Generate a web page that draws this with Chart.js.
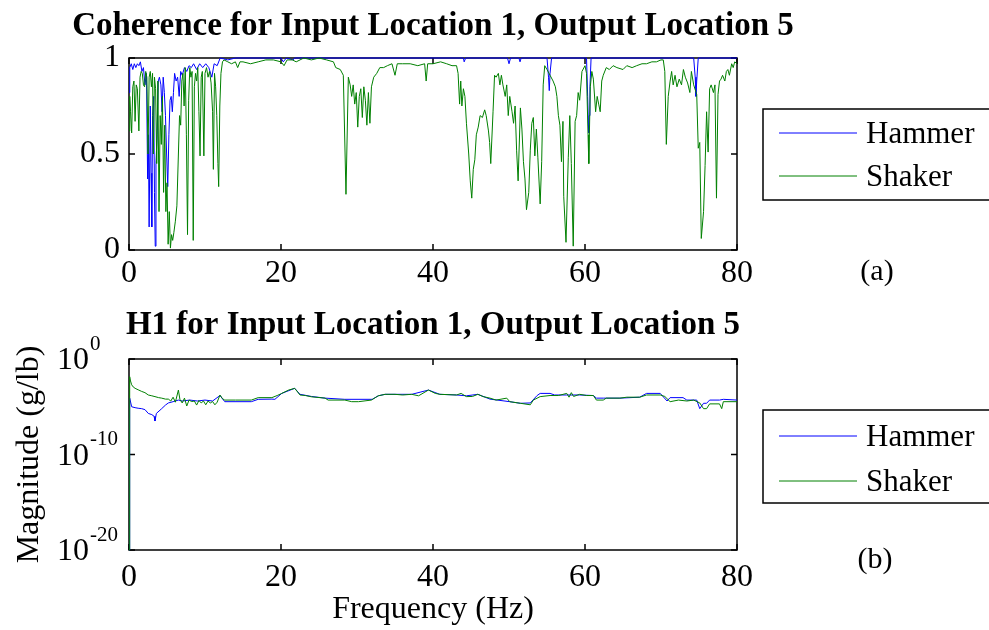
<!DOCTYPE html>
<html>
<head>
<meta charset="utf-8">
<script src="https://cdn.jsdelivr.net/npm/chart.js@4.4.0/dist/chart.umd.min.js"></script>
<style>
  body { margin: 0; background: #fff; }
  #wrap { position: relative; width: 989px; height: 630px; overflow: hidden; }
  canvas { position: absolute; left: 0; }
</style>
</head>
<body>
<div id="wrap">
  <canvas id="cohChart" width="989" height="305" style="top:0px"></canvas>
  <canvas id="h1Chart" width="989" height="325" style="top:305px"></canvas>
</div>
<script>
// values: [frequency (Hz), value]
const freqTicks = [0, 20, 40, 60, 80];
const cohTicks = [0, 0.5, 1];
const magTicks = [1e-20, 1e-10, 1];

const hammerCoherence = [
  [0,0.82],[0.1,0.95],[0.3,0.97],[0.5,0.94],[0.7,0.97],[0.9,0.95],[1.1,0.97],[1.3,0.96],[1.5,0.98],[1.7,0.93],
  [1.9,0.95],[2.1,0.86],[2.3,0.92],[2.45,0.37],[2.55,0.6],[2.65,0.12],[2.8,0.75],[2.9,0.4],[3.0,0.12],[3.1,0.7],
  [3.25,0.8],[3.35,0.3],[3.45,0.02],[3.55,0.45],[3.7,0.6],[3.85,0.88],[4.0,0.9],[4.2,0.86],[4.35,0.72],[4.5,0.9],
  [4.65,0.82],[4.8,0.7],[4.95,0.5],[5.1,0.33],[5.25,0.6],[5.4,0.78],[5.55,0.8],[5.7,0.72],[5.85,0.82],[6.0,0.92],
  [6.2,0.88],[6.4,0.9],[6.6,0.8],[6.8,0.93],[7.0,0.91],[7.3,0.95],[7.6,0.93],[7.9,0.96],[8.2,0.95],[8.5,0.97],
  [8.9,0.94],[9.3,0.97],[9.7,0.95],[10.1,0.97],[10.5,0.95],[10.9,0.9],[11.2,0.97],[11.6,0.96],[12,1],[13,0.99],
  [14,1],[20,1],[20.3,0.98],[20.7,1],[21.6,0.99],[21.8,1],[44,1],[44.1,0.98],[44.3,1],
  [49.8,1],[50.0,0.97],[50.2,1],[51.3,1],[51.45,0.98],[51.6,1],[55.0,1],[55.2,0.9],[55.3,0.83],[55.4,0.92],
  [55.6,1],[60.2,1],[60.35,0.8],[60.45,0.65],[60.5,0.61],[60.55,0.7],[60.65,0.85],[60.8,1],[74.3,1],[74.5,0.9],
  [74.6,0.8],[74.7,0.88],[74.9,1],[80,1]
];

const shakerCoherence = [
  [0,0.62],[0.1,0.8],[0.2,0.72],[0.35,0.61],[0.5,0.85],[0.65,0.88],[0.8,0.67],[0.95,0.86],[1.1,0.84],[1.3,0.62],
  [1.45,0.9],[1.6,0.93],[1.75,0.92],[1.9,0.86],[2.05,0.85],[2.2,0.93],[2.35,0.9],[2.5,0.5],[2.65,0.9],[2.8,0.93],
  [2.95,0.85],[3.1,0.92],[3.2,0.5],[3.35,0.9],[3.5,0.84],[3.65,0.45],[3.8,0.88],[3.95,0.2],[4.1,0.7],[4.25,0.55],
  [4.4,0.8],[4.55,0.3],[4.7,0.65],[4.85,0.2],[5.0,0.35],[5.15,0.03],[5.3,0.2],[5.45,0.01],[5.6,0.08],[5.75,0.05],
  [5.9,0.09],[6.1,0.15],[6.3,0.23],[6.5,0.5],[6.65,0.7],[6.8,0.65],[6.95,0.88],[7.1,0.92],[7.25,0.75],[7.4,0.95],
  [7.55,0.6],[7.7,0.08],[7.85,0.78],[8.0,0.95],[8.15,0.9],[8.3,0.93],[8.45,0.05],[8.6,0.85],[8.75,0.92],[8.9,0.88],
  [9.05,0.95],[9.2,0.72],[9.35,0.49],[9.5,0.9],[9.65,0.93],[9.85,0.49],[10.0,0.92],[10.2,0.95],[10.4,0.9],[10.6,0.93],
  [10.8,0.87],[11.0,0.72],[11.1,0.42],[11.25,0.92],[11.4,0.85],[11.55,0.7],[11.7,0.45],[11.8,0.33],[11.95,0.75],[12.1,0.92],
  [12.3,0.98],[12.5,0.99],[13,0.98],[13.5,0.97],[14,0.98],[14.3,0.95],[14.6,0.98],[15,0.98],[16,0.97],[17,0.98],
  [18,0.99],[19,0.99],[20,0.98],[20.4,0.96],[20.8,0.99],[21.5,0.99],[22,0.98],[23,1],[24,0.99],[25,1],
  [26,0.99],[26.9,0.98],[27.2,0.95],[27.8,0.94],[28.2,0.91],[28.55,0.29],[28.86,0.9],[29.1,0.86],[29.3,0.8],[29.5,0.86],
  [29.7,0.76],[29.9,0.82],[30.1,0.64],[30.3,0.8],[30.5,0.84],[30.7,0.69],[30.9,0.85],[31.1,0.78],[31.3,0.65],[31.5,0.82],
  [31.7,0.66],[31.9,0.85],[32.2,0.9],[32.6,0.92],[33.0,0.95],[33.5,0.95],[34,0.96],[34.6,0.97],[35,0.91],[35.3,0.97],
  [36,0.97],[37,0.97],[38,0.96],[38.9,0.97],[39.1,0.88],[39.3,0.97],[40,0.97],[41,0.98],[41.8,0.97],[42.5,0.96],
  [43.1,0.96],[43.3,0.92],[43.5,0.76],[43.65,0.88],[43.8,0.75],[44.0,0.84],[44.2,0.8],[44.4,0.66],[44.7,0.5],[44.9,0.36],
  [45.1,0.27],[45.3,0.42],[45.5,0.47],[45.7,0.6],[45.95,0.64],[46.2,0.7],[46.5,0.69],[46.8,0.73],[47.0,0.7],[47.3,0.62],
  [47.45,0.56],[47.6,0.45],[47.9,0.72],[48.1,0.91],[48.3,0.9],[48.6,0.92],[48.8,0.86],[49.0,0.91],[49.2,0.86],[49.5,0.8],
  [49.7,0.86],[49.9,0.7],[50.1,0.8],[50.4,0.72],[50.6,0.66],[50.8,0.75],[51.0,0.52],[51.2,0.36],[51.5,0.74],[51.7,0.63],
  [51.9,0.46],[52.1,0.37],[52.3,0.21],[52.6,0.3],[52.8,0.52],[53.0,0.66],[53.2,0.69],[53.4,0.49],[53.6,0.63],[53.8,0.48],
  [54.1,0.24],[54.3,0.46],[54.5,0.86],[54.7,0.96],[55.0,0.94],[55.4,0.91],[55.8,0.88],[56.1,0.85],[56.3,0.8],[56.5,0.7],
  [56.7,0.65],[56.9,0.46],[57.1,0.67],[57.2,0.28],[57.5,0.04],[57.8,0.48],[58.0,0.7],[58.2,0.45],[58.45,0.02],[58.7,0.67],
  [58.9,0.7],[59.1,0.82],[59.3,0.78],[59.6,0.93],[60.0,0.96],[60.2,0.92],[60.4,0.6],[60.5,0.45],[60.7,0.85],[60.9,0.93],
  [61.1,0.89],[61.4,0.72],[61.6,0.8],[61.8,0.76],[62.0,0.72],[62.2,0.88],[62.4,0.91],[62.8,0.95],[63.2,0.94],[63.7,0.96],
  [64.2,0.95],[65.0,0.94],[65.5,0.96],[66.2,0.95],[66.8,0.96],[67.5,0.97],[68.1,0.97],[68.8,0.98],[69.4,0.98],[70.0,0.99],
  [70.3,0.99],[70.5,0.93],[70.7,0.55],[70.95,0.8],[71.2,0.88],[71.4,0.93],[71.6,0.86],[71.85,0.91],[72.1,0.85],[72.4,0.89],
  [72.7,0.86],[72.95,0.94],[73.2,0.9],[73.5,0.87],[73.8,0.82],[74.0,0.93],[74.3,0.86],[74.7,0.81],[74.9,0.53],[75.1,0.56],
  [75.3,0.06],[75.6,0.2],[75.8,0.44],[76.0,0.72],[76.2,0.51],[76.4,0.84],[76.6,0.86],[76.9,0.82],[77.1,0.86],[77.3,0.27],
  [77.5,0.81],[77.7,0.88],[77.9,0.89],[78.1,0.91],[78.4,0.88],[78.6,0.93],[78.8,0.94],[79.0,0.91],[79.3,0.97],[79.5,0.95],
  [79.7,0.98],[80,0.97]
];

const hammerH1 = [
  [0,1e-20],[0.09,8e-5],[0.35,1e-5],[0.8,8e-6],[1.2,7e-6],[1.67,6.3e-6],[2.1,5e-6],[2.54,2e-6],[3.0,1.5e-6],[3.3,1e-6],
  [3.42,3.2e-7],[3.6,2e-6],[4.3,6.3e-6],[4.8,1.5e-5],[5.18,2.5e-5],[5.8,3.4e-5],[6.5,5e-5],[7,4e-5],[8,5e-5],[9,4e-5],
  [10,5e-5],[11,4e-5],[11.97,1.5e-4],[12.6,3.4e-5],[16.1,3.4e-5],[17,6e-5],[18.8,6.3e-5],[19.2,6e-5],[20.1,2.5e-4],[21.8,8.5e-4],
  [22.5,2e-4],[24,1.2e-4],[25.8,8e-5],[28.4,6e-5],[32,6e-5],[32.8,1.4e-4],[33.7,2e-4],[35,2e-4],[37.2,2e-4],[39.4,5.6e-4],
  [40.9,2e-4],[43.1,1.7e-4],[44.4,1.4e-4],[45.9,2e-4],[47.5,6.3e-5],[50.1,3.4e-5],[51.5,2.3e-5],[52.8,2.5e-5],[53.7,1.5e-4],[54.1,2.5e-4],
  [55.4,2.5e-4],[56,1.7e-4],[57.6,1.7e-4],[59.3,1.7e-4],[61.1,1.5e-4],[61.5,8e-5],[62.4,8e-5],[64.6,8e-5],[67.2,1e-4],[68.1,2.5e-4],
  [69.9,2.5e-4],[70.8,4e-5],[71.2,9e-5],[72.9,9e-5],[73.4,5e-5],[74.7,5e-5],[75.1,6.3e-6],[75.6,2.3e-5],[76.0,2.3e-5],[76.4,5e-5],
  [77.7,5e-5],[78.2,6e-5],[80,5e-5]
];

const shakerH1 = [
  [0,1e-20],[0.09,1.4e-2],[0.2,5e-3],[0.35,2e-3],[0.55,1.2e-3],[0.8,8.5e-4],[1.2,6e-4],[1.67,4e-4],[2.1,3e-4],[2.54,1.7e-4],
  [3.0,1.4e-4],[3.42,1.15e-4],[3.9,9e-5],[4.3,8e-5],[4.8,6.3e-5],[5.18,6.3e-5],[5.5,4e-5],[5.8,1e-4],[6.1,3e-5],[6.5,5.6e-4],
  [6.7,6e-5],[7.0,2.5e-5],[7.3,8e-5],[7.6,1.2e-5],[7.9,5e-5],[8.25,3.5e-5],[8.6,4e-5],[8.9,1.5e-5],[9.2,4.5e-5],[9.5,2.5e-5],
  [9.8,4e-5],[10.1,1.6e-5],[10.4,4e-5],[10.7,2.5e-5],[11.0,3.5e-5],[11.3,1.6e-5],[11.6,3e-5],[11.97,1.7e-4],[12.3,7e-5],[12.6,5e-5],
  [14,5e-5],[16.1,5e-5],[17,9e-5],[18.8,9e-5],[19.5,1.5e-4],[20.1,2.5e-4],[21.0,5.6e-4],[21.8,8.5e-4],[22.5,1.7e-4],[23.2,1.5e-4],
  [24,1.1e-4],[25.8,8e-5],[26.2,5e-5],[28.4,5e-5],[29.3,3.4e-5],[30.2,3.4e-5],[31.9,5e-5],[32.8,1.4e-4],[33.7,2e-4],[35,2e-4],
  [36,1.7e-4],[37.2,2e-4],[38.1,1.4e-4],[39.4,5.6e-4],[40.3,2.5e-4],[40.9,2e-4],[43.1,1.7e-4],[43.7,2.5e-4],[44.4,1.15e-4],[45.2,1.2e-4],
  [45.9,2e-4],[46.6,1.15e-4],[47.5,8e-5],[48.3,5e-5],[49.7,8e-5],[50.1,3.4e-5],[51.5,2.3e-5],[52.8,1.6e-5],[53.2,5e-5],[54.1,1.15e-4],
  [55.4,1.5e-4],[56.5,1.5e-4],[57.6,2.5e-4],[57.9,1e-4],[58.2,3e-4],[58.5,1.2e-4],[59.3,2e-4],[60.2,1.5e-4],[61.1,1.5e-4],[61.5,5e-5],
  [62.4,5e-5],[62.8,8e-5],[64.6,8e-5],[65.5,1e-4],[67.2,1e-4],[68.1,1.7e-4],[69.9,1.7e-4],[70.5,1.2e-4],[71.2,3.4e-5],[72.3,5e-5],
  [73.4,4e-5],[74.3,5e-5],[75.1,2.5e-5],[75.6,6.3e-6],[76.0,6.3e-6],[76.4,2e-5],[77.7,2e-5],[77.99,6.3e-6],[78.2,3.4e-5],[80,3.4e-5]
];

const SERIF = "'Liberation Serif', 'Times New Roman', Times, serif";
const BLUE = '#0000ff';
const GREEN = '#008000';

// cadre, petits tirets vers l'intérieur, titre, légende encadrée et repère (a)/(b)
const matlabAxes = {
  id: 'matlabAxes',
  beforeDatasetsDraw(chart) {
    const {ctx, chartArea: a, scales: {x, y}} = chart;
    ctx.save();
    ctx.strokeStyle = '#000';
    ctx.lineWidth = 1.5;
    ctx.strokeRect(a.left, a.top, a.right - a.left, a.bottom - a.top);
    ctx.beginPath();
    x.ticks.forEach(t => {
      const px = x.getPixelForValue(t.value);
      ctx.moveTo(px, a.bottom); ctx.lineTo(px, a.bottom - 6);
      ctx.moveTo(px, a.top); ctx.lineTo(px, a.top + 6);
    });
    y.ticks.forEach(t => {
      const py = y.getPixelForValue(t.value);
      ctx.moveTo(a.left, py); ctx.lineTo(a.left + 6, py);
      ctx.moveTo(a.right, py); ctx.lineTo(a.right - 6, py);
    });
    ctx.stroke();
    ctx.restore();
  },
  afterDraw(chart, args, opts) {
    const {ctx, chartArea: a, scales: {y}} = chart;
    ctx.save();
    ctx.fillStyle = '#000';
    ctx.textBaseline = 'middle';
    // titre centré sur la zone du graphe (plus large que celle-ci)
    ctx.font = 'bold 33px ' + SERIF;
    ctx.textAlign = 'center';
    ctx.fillText(opts.title, (a.left + a.right) / 2, opts.titleY);
    // légende
    ctx.strokeStyle = '#000';
    ctx.lineWidth = 1.5;
    ctx.strokeRect(763, opts.boxTop, 240, opts.boxBottom - opts.boxTop);
    chart.data.datasets.forEach((ds, i) => {
      const ry = opts.rows[i];
      ctx.strokeStyle = ds.borderColor;
      ctx.lineWidth = 1;
      ctx.beginPath();
      ctx.moveTo(779, ry); ctx.lineTo(857, ry);
      ctx.stroke();
      ctx.font = '31px ' + SERIF;
      ctx.textAlign = 'left';
      ctx.fillText(ds.label, 866, ry + 2);
    });
    // (a) / (b)
    ctx.font = '30px ' + SERIF;
    ctx.textAlign = 'center';
    ctx.fillText(opts.panel, opts.panelX, opts.panelY);
    // étiquettes 10^n de l'axe log
    if (opts.logLabels) {
      y.ticks.forEach(t => {
        const py = y.getPixelForValue(t.value);
        const ex = Math.round(Math.log10(t.value));
        ctx.font = '32px ' + SERIF;
        ctx.textAlign = 'right';
        ctx.fillText('10', 89, py + 2);
        ctx.font = '21px ' + SERIF;
        ctx.textAlign = 'left';
        ctx.fillText(ex === 0 ? '0' : '-' + Math.abs(ex), 90, py - 15);
      });
    }
    ctx.restore();
  }
};

function lineSet(label, data, color, order) {
  return {label, data, borderColor: color, borderWidth: 1, pointRadius: 0, tension: 0, fill: false, order, clip: 2};
}

const tickFont = {family: SERIF, size: 32};

new Chart(document.getElementById('cohChart'), {
  type: 'line',
  data: {datasets: [
    lineSet('Hammer', hammerCoherence, BLUE, 2),
    lineSet('Shaker', shakerCoherence, GREEN, 1)
  ]},
  options: {
    responsive: false,
    animation: false,
    layout: {padding: {left: 0, right: 252, top: 58, bottom: 0}},
    plugins: {
      legend: {display: false},
      tooltip: {enabled: false},
      matlabAxes: {
        title: 'Coherence for Input Location 1, Output Location 5', titleY: 26,
        boxTop: 109, boxBottom: 200, rows: [133, 176], panel: '(a)', panelX: 877, panelY: 272
      }
    },
    scales: {
      x: {
        type: 'linear', min: 0, max: 80,
        afterBuildTicks: s => { s.ticks = freqTicks.map(v => ({value: v})); },
        afterFit: s => { s.height = 55; s.paddingLeft = 0; s.paddingRight = 0; },
        grid: {display: false, drawTicks: false}, border: {display: false},
        ticks: {font: tickFont, color: '#000', padding: 4, maxRotation: 0, autoSkip: false}
      },
      y: {
        min: 0, max: 1,
        afterBuildTicks: s => { s.ticks = cohTicks.map(v => ({value: v})); },
        afterFit: s => { s.width = 129; s.paddingTop = 0; s.paddingBottom = 0; },
        grid: {display: false, drawTicks: false}, border: {display: false},
        ticks: {font: tickFont, color: '#000', padding: 9, autoSkip: false, callback: v => String(v)}
      }
    }
  },
  plugins: [matlabAxes]
});

new Chart(document.getElementById('h1Chart'), {
  type: 'line',
  data: {datasets: [
    lineSet('Hammer', hammerH1, BLUE, 2),
    lineSet('Shaker', shakerH1, GREEN, 1)
  ]},
  options: {
    responsive: false,
    animation: false,
    layout: {padding: {left: 0, right: 252, top: 54, bottom: 0}},
    plugins: {
      legend: {display: false},
      tooltip: {enabled: false},
      matlabAxes: {
        title: 'H1 for Input Location 1, Output Location 5', titleY: 20,
        boxTop: 105, boxBottom: 198, rows: [131, 176], panel: '(b)', panelX: 875, panelY: 255, logLabels: true
      }
    },
    scales: {
      x: {
        type: 'linear', min: 0, max: 80,
        afterBuildTicks: s => { s.ticks = freqTicks.map(v => ({value: v})); },
        afterFit: s => { s.height = 80; s.paddingLeft = 0; s.paddingRight = 0; },
        grid: {display: false, drawTicks: false}, border: {display: false},
        ticks: {font: tickFont, color: '#000', padding: 8, maxRotation: 0, autoSkip: false},
        title: {display: true, text: 'Frequency (Hz)', color: '#000', font: {family: SERIF, size: 32}, padding: {top: 0, bottom: 1}}
      },
      y: {
        type: 'logarithmic', min: 1e-20, max: 1,
        afterBuildTicks: s => { s.ticks = magTicks.map(v => ({value: v})); },
        afterFit: s => { s.width = 129; s.paddingTop = 0; s.paddingBottom = 0; },
        grid: {display: false, drawTicks: false}, border: {display: false},
        ticks: {display: false},
        title: {display: true, text: 'Magnitude (g/lb)', color: '#000', font: {family: SERIF, size: 32}, padding: {top: 10, bottom: 0}}
      }
    }
  },
  plugins: [matlabAxes]
});
</script>
</body>
</html>
